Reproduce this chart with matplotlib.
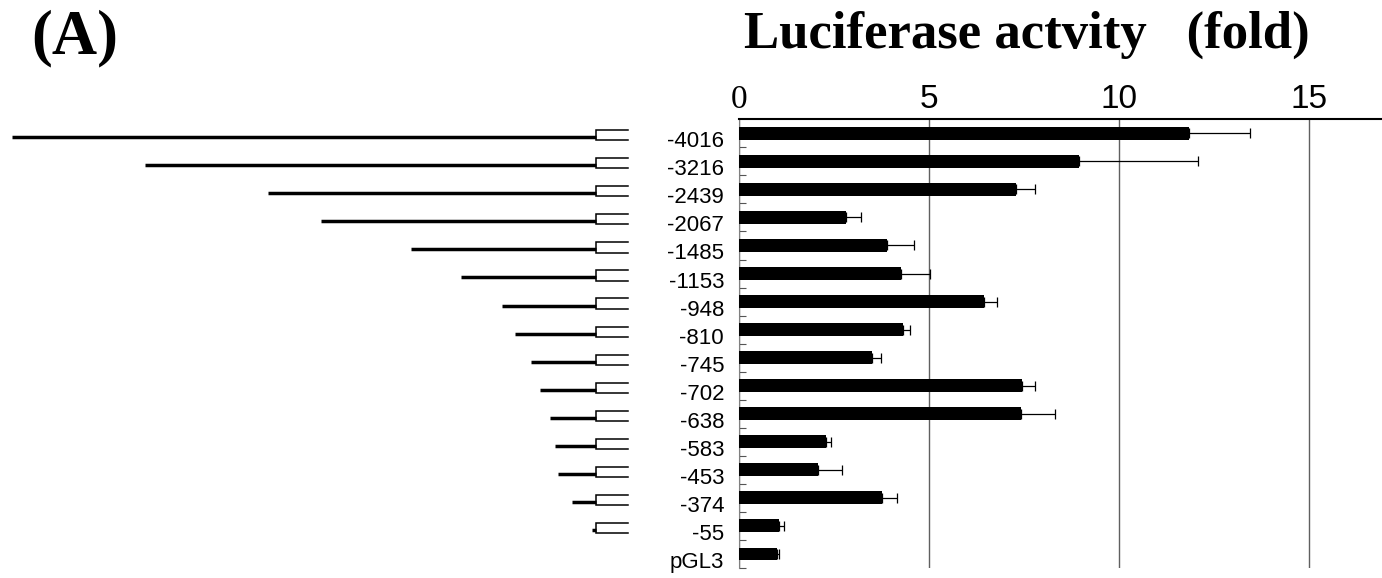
import matplotlib
matplotlib.use("Agg")
import matplotlib.pyplot as plt
from matplotlib.transforms import ScaledTranslation
import numpy as np

# ---------------- data ----------------
labels = ['-4016', '-3216', '-2439', '-2067', '-1485', '-1153', '-948', '-810',
          '-745', '-702', '-638', '-583', '-453', '-374', '-55', 'pGL3']
activity = [11.85, 8.95, 7.30, 2.82, 3.91, 4.26, 6.46, 4.33,
            3.50, 7.46, 7.42, 2.30, 2.08, 3.78, 1.07, 1.02]
activity_err = [1.61, 3.13, 0.50, 0.39, 0.71, 0.77, 0.35, 0.18,
                0.24, 0.34, 0.90, 0.12, 0.65, 0.38, 0.12, 0.04]
# schematic promoter-fragment lengths as drawn (pGL3 has none)
construct_len = [584, 451, 328, 275, 185, 135, 94, 81, 65, 56, 46, 41, 38, 24, 4]
xticks = [0, 5, 10, 15]
title = 'Luciferase actvity   (fold)'
panel = '(A)'

# ---------------- figure ----------------
W, H = 1382, 578
fig = plt.figure(figsize=(W / 100, H / 100), dpi=100)

ax_top_px, ax_bot_px = 119.3, 568.0
ax_left_px = 738.7
bottom = 1 - ax_bot_px / H
height = (ax_bot_px - ax_top_px) / H
left = ax_left_px / W
width = 1 - left
px_per_unit = 38.0

ax = fig.add_axes([left, bottom, width, height])
n = len(labels)
y = np.arange(n)
ax.barh(y, activity, height=0.46, color='black', zorder=3)
ax.errorbar(activity, y, xerr=[np.zeros(n), activity_err], fmt='none',
            ecolor='black', elinewidth=0.9, capsize=3.6, capthick=0.9, zorder=4)

ax.set_xlim(0, (W - ax_left_px) / px_per_unit)
ax.set_ylim(n - 0.5, -0.5)

ax.xaxis.tick_top()
ax.set_xticks(xticks)
ax.tick_params(axis='x', which='major', length=0, pad=3, labelsize=24)
xt = ax.get_xticklabels()
for i, t in enumerate(xt):
    t.set_fontfamily('Liberation Serif' if i == 0 else 'Liberation Sans')
ax.grid(axis='x', color='#606060', linewidth=1.0, zorder=1)
ax.set_axisbelow(True)

ax.set_yticks(y)
ax.set_yticklabels(labels, fontsize=16, fontfamily='Liberation Sans')
ax.tick_params(axis='y', which='major', length=0, pad=10.5)
ax.set_yticks(np.arange(n) + 0.5, minor=True)
ax.tick_params(axis='y', which='minor', direction='in', length=5.2,
               width=0.8, color='#555555')
off = ScaledTranslation(0, -0.06, fig.dpi_scale_trans)
for t in ax.get_yticklabels():
    t.set_transform(t.get_transform() + off)

ax.spines['top'].set_linewidth(1.5)
ax.spines['top'].set_color('black')
ax.spines['left'].set_linewidth(0.8)
ax.spines['left'].set_color('#808080')
ax.spines['right'].set_visible(False)
ax.spines['bottom'].set_visible(False)

# ---------------- construct schematic (left panel) ----------------
axl = fig.add_axes([0, bottom, 660 / W, height])
axl.set_xlim(0, 660)
axl.set_ylim(n - 0.5, -0.5)
axl.axis('off')
box_x0, box_x1 = 596, 628
box_half = 0.18
for i, L in enumerate(construct_len):
    yc = i + 0.07
    axl.plot([box_x0 - L, box_x0], [i + 0.14, i + 0.14], color='black',
             linewidth=2.5, solid_capstyle='butt')
    axl.plot([box_x1, box_x0, box_x0, box_x1],
             [yc - box_half, yc - box_half, yc + box_half, yc + box_half],
             color='black', linewidth=1.1, solid_joinstyle='miter')

# ---------------- titles ----------------
fig.text(744 / W, 1 - 48 / H, title, fontfamily='Liberation Serif',
         fontweight='bold', fontsize=38, ha='left', va='baseline')
fig.text(31 / W, 1 - 53 / H, panel, fontfamily='Liberation Serif',
         fontweight='bold', fontsize=45, ha='left', va='baseline')

fig.savefig('out.png', dpi=100)
